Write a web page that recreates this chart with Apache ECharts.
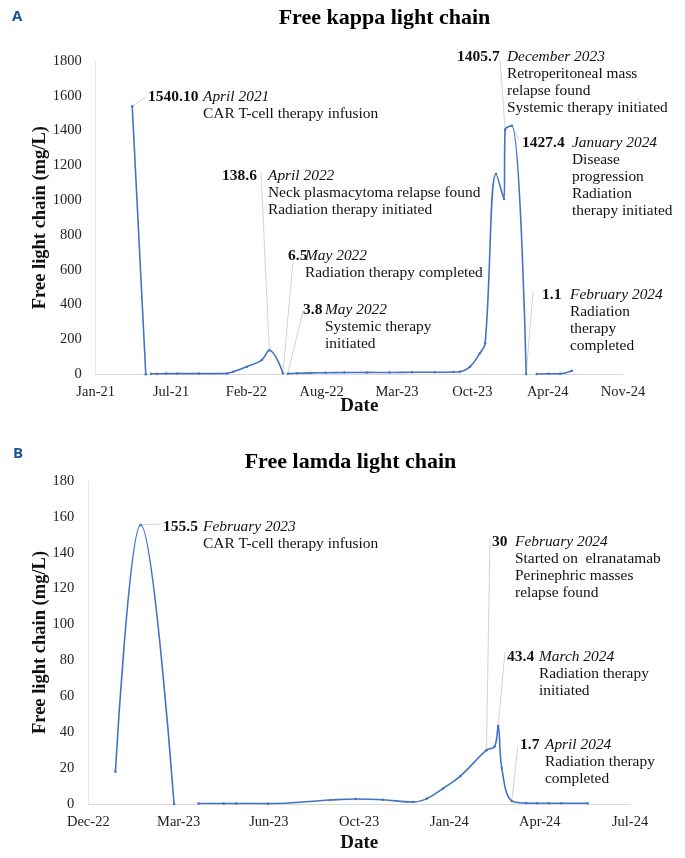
<!DOCTYPE html>
<html><head><meta charset="utf-8">
<script src="https://cdn.jsdelivr.net/npm/echarts@6/dist/echarts.min.js"></script>
<style>html,body{margin:0;padding:0;background:#fff}#c{width:685px;height:858px}</style>
</head><body><div id="c"></div>
<script>
// ---------- Panel A: free kappa light chain ----------
const kappaDates = ['2021-04-11','2021-05-17','2021-05-24','2021-05-31','2021-06-15','2021-07-10','2021-08-09','2021-10-05','2021-12-18',
  '2022-01-04','2022-02-09','2022-03-21','2022-04-10','2022-05-16','2022-05-22','2022-05-29','2022-06-23','2022-07-28','2022-09-06',
  '2022-10-26','2022-12-25','2023-02-23','2023-04-24','2023-06-23','2023-08-12','2023-08-29','2023-09-25','2023-10-21','2023-11-04',
  '2023-12-03','2023-12-24','2023-12-27','2024-01-14','2024-02-21','2024-03-06','2024-03-20','2024-04-20','2024-05-21','2024-06-21'];
const kappaValues = [1540.1,0,null,3,3,4,4,4,5,
  15,44,82,138.6,6.5,null,3.8,6,8,9,
  10,11,10,12,12,13,15,44,121,178,
  1151,1007,1405.7,1427.4,1.1,null,2,3,3,20];
const kappaTickLabels = ['Jan-21','Jul-21','Feb-22','Aug-22','Mar-23','Oct-23','Apr-24','Nov-24'];
const kappaNoteDates = ['2021-04-11','2022-04-10','2022-05-16','2022-05-29','2023-12-27','2024-01-14','2024-02-21'];
const kappaNoteNumbers = ['1540.10','138.6','6.5','3.8','1405.7','1427.4','1.1'];
const kappaNoteWhen = ['April 2021','April 2022','May 2022','May 2022','December 2023','January 2024','February 2024'];
const kappaNoteText = [
  ['CAR T-cell therapy infusion'],
  ['Neck plasmacytoma relapse found','Radiation therapy initiated'],
  ['Radiation therapy completed'],
  ['Systemic therapy','initiated'],
  ['Retroperitoneal mass','relapse found','Systemic therapy initiated'],
  ['Disease','progression','Radiation','therapy initiated'],
  ['Radiation','therapy','completed']
];

// ---------- Panel B: free lambda light chain ----------
const lambdaDates = ['2023-01-04','2023-02-01','2023-03-10','2023-03-24','2023-04-06','2023-05-04','2023-05-18','2023-06-22','2023-08-30',
  '2023-09-27','2023-10-27','2023-11-30','2023-12-15','2024-01-02','2024-01-21','2024-02-19','2024-02-28','2024-03-03','2024-03-07',
  '2024-03-18','2024-04-03','2024-04-15','2024-04-28','2024-05-12','2024-06-10'];
const lambdaValues = [18,155.5,0,null,0.3,0.3,0.3,0.2,2.2,
  2.8,2.4,1.1,3,8.7,15.5,30,32,43.4,20,
  1.7,0.5,0.4,0.4,0.4,0.4];
const lambdaTickLabels = ['Dec-22','Mar-23','Jun-23','Oct-23','Jan-24','Apr-24','Jul-24'];
const lambdaNoteDates = ['2023-02-01','2024-02-19','2024-03-03','2024-03-18'];
const lambdaNoteNumbers = ['155.5','30','43.4','1.7'];
const lambdaNoteWhen = ['February 2023','February 2024','March 2024','April 2024'];
const lambdaNoteText = [
  ['CAR T-cell therapy infusion'],
  ['Started on  elranatamab','Perinephric masses','relapse found'],
  ['Radiation therapy','initiated'],
  ['Radiation therapy','completed']
];

// ---------- layout (pixels) for annotation texts ----------
const kappaNoteLayout = [
  {nx:148, tx:203, y:97,  ax:146, ay:97},
  {nx:222, tx:268, y:176, ax:261, ay:172},
  {nx:288, tx:305, y:256, ax:293, ay:261},
  {nx:303, tx:325, y:310, ax:303, ay:311},
  {nx:457, tx:507, y:57,  ax:500, ay:60},
  {nx:522, tx:572, y:143, ax:519, ay:140},
  {nx:542, tx:570, y:295, ax:533, ay:292}
];
const lambdaNoteLayout = [
  {nx:163, tx:203, y:527, ax:161, ay:524},
  {nx:492, tx:515, y:542, ax:490, ay:538},
  {nx:507, tx:539, y:657, ax:505, ay:652},
  {nx:520, tx:545, y:745, ax:518, ay:745}
];

const SERIF = '"Liberation Serif", "Times New Roman", serif';
const BLUE = '#4472C4';
function serial(s){ const p = s.split('-'); return (Date.UTC(+p[0], +p[1]-1, +p[2]) - Date.UTC(1899,11,30)) / 864e5; }
function pairs(dates, vals){ return dates.map((d,i)=>[serial(d), vals[i]]); }

const chart = echarts.init(document.getElementById('c'), null, {renderer:'canvas'});

function xAxisFor(gi, min, max, interval, labels, margin, gap){
  return {
    type:'value', gridIndex:gi, min:min, max:max, interval:interval,
    axisLine:{show:true, lineStyle:{color:'#d9d9d9', width:1}},
    axisTick:{show:false}, splitLine:{show:false},
    axisLabel:{color:'#222', fontFamily:SERIF, fontSize:14.5, margin:margin,
      formatter:(v)=>{ const i = Math.round((v-min)/interval); return labels[i] || ''; }},
    name:'Date', nameLocation:'middle', nameGap:gap, nameMoveOverlap:false,
    nameTextStyle:{color:'#111', fontFamily:SERIF, fontSize:19, fontWeight:'bold'}
  };
}
function yAxisFor(gi, max, interval, gap){
  return {
    type:'value', gridIndex:gi, min:0, max:max, interval:interval,
    axisLine:{show:true, lineStyle:{color:'#e6e6e6', width:1}},
    axisTick:{show:false}, splitLine:{show:false},
    axisLabel:{color:'#222', fontFamily:SERIF, fontSize:14.5, margin:14, formatter:(v)=>String(v)},
    name:'Free light chain (mg/L)', nameLocation:'middle', nameRotate:90, nameGap:gap, nameMoveOverlap:false,
    nameTextStyle:{color:'#111', fontFamily:SERIF, fontSize:18.5, fontWeight:'bold'}
  };
}
function lineSeries(xi, data){
  return {
    type:'line', xAxisIndex:xi, yAxisIndex:xi, data:data, smooth:0.4, connectNulls:false,
    showSymbol:true, symbol:'circle', symbolSize:2.5,
    itemStyle:{color:BLUE}, lineStyle:{color:BLUE, width:1.6}, emphasis:{disabled:true}, z:3
  };
}

chart.setOption({
  animation:false,
  backgroundColor:'#fff',
  grid:[
    {left:95.7, top:61, width:527.3, height:313.3},
    {left:88.3, top:481, width:541.7, height:323}
  ],
  xAxis:[xAxisFor(0, 44200, 45600, 200, kappaTickLabels, 10, 22), xAxisFor(1, 44900, 45500, 100, lambdaTickLabels, 11, 30)],
  yAxis:[yAxisFor(0, 1800, 200, 46), yAxisFor(1, 180, 20, 39)],
  series:[lineSeries(0, pairs(kappaDates, kappaValues)), lineSeries(1, pairs(lambdaDates, lambdaValues))]
});

function noteGraphics(gi, dates, vals, nDates, nums, whens, texts, layout){
  const out = [];
  nDates.forEach((d, k) => {
    const idx = dates.indexOf(d);
    const pt = chart.convertToPixel({gridIndex:gi}, [serial(d), vals[idx]]);
    const L = layout[k];
    out.push({type:'line', silent:true, z:2, shape:{x1:pt[0], y1:pt[1], x2:L.ax, y2:L.ay},
      style:{stroke:'#c8c8c8', lineWidth:0.8}});
    out.push({type:'text', silent:true, z:5, x:L.nx, y:L.y,
      style:{text:nums[k], fill:'#111', fontFamily:SERIF, fontSize:15.5, fontWeight:'bold', verticalAlign:'middle', align:'left'}});
    out.push({type:'text', silent:true, z:5, x:L.tx, y:L.y,
      style:{text:whens[k], fill:'#111', fontFamily:SERIF, fontSize:15.4, fontStyle:'italic', verticalAlign:'middle', align:'left'}});
    texts[k].forEach((t, j) => {
      out.push({type:'text', silent:true, z:5, x:L.tx, y:L.y + 17*(j+1),
        style:{text:t, fill:'#111', fontFamily:SERIF, fontSize:15.4, verticalAlign:'middle', align:'left'}});
    });
  });
  return out;
}

const g = [];
g.push({type:'text', x:384.5, y:18, silent:true, style:{text:'Free kappa light chain', fill:'#000', fontFamily:SERIF, fontSize:22, fontWeight:'bold', align:'center', verticalAlign:'middle'}});
g.push({type:'text', x:350.5, y:462, silent:true, style:{text:'Free lamda light chain', fill:'#000', fontFamily:SERIF, fontSize:22, fontWeight:'bold', align:'center', verticalAlign:'middle'}});
g.push({type:'text', x:12, y:17, silent:true, style:{text:'A', fill:'#1b5494', fontFamily:'"Open Sans", "Liberation Sans", sans-serif', fontSize:15, fontWeight:'bold', align:'left', verticalAlign:'middle'}});
g.push({type:'text', x:13, y:454, silent:true, style:{text:'B', fill:'#1b5494', fontFamily:'"Open Sans", "Liberation Sans", sans-serif', fontSize:15, fontWeight:'bold', align:'left', verticalAlign:'middle'}});
Array.prototype.push.apply(g, noteGraphics(0, kappaDates, kappaValues, kappaNoteDates, kappaNoteNumbers, kappaNoteWhen, kappaNoteText, kappaNoteLayout));
Array.prototype.push.apply(g, noteGraphics(1, lambdaDates, lambdaValues, lambdaNoteDates, lambdaNoteNumbers, lambdaNoteWhen, lambdaNoteText, lambdaNoteLayout));
chart.setOption({graphic:g});
</script></body></html>
